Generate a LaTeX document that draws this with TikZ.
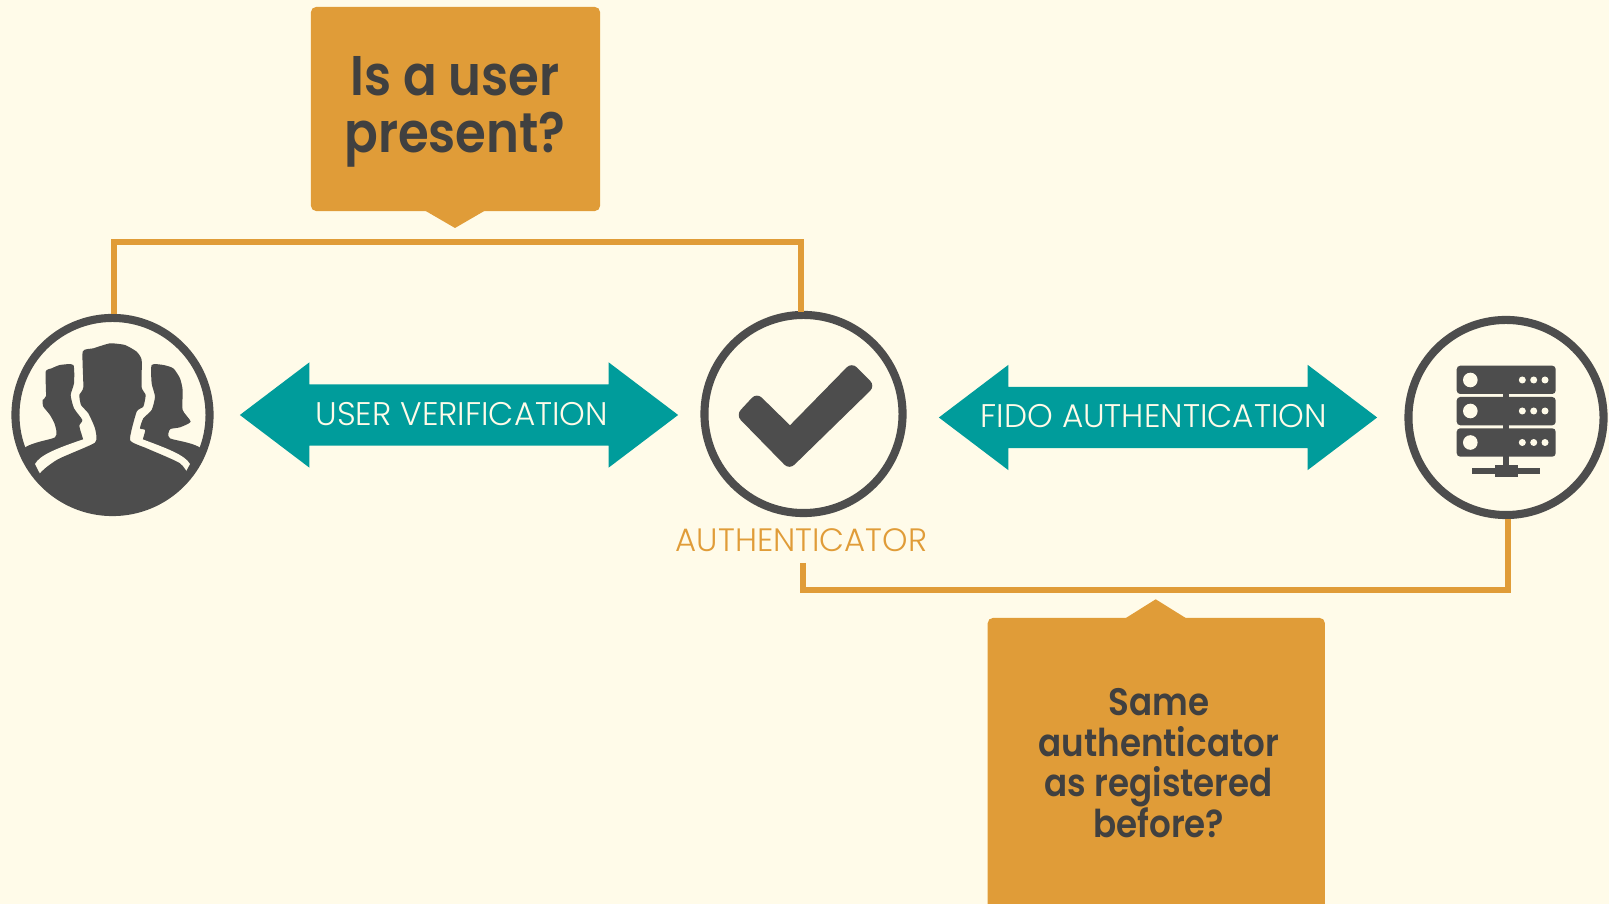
\documentclass[tikz,border=0pt]{standalone}
\usepackage{fontspec}
\setmainfont{Poppins}[UprightFont=* Light,BoldFont=* SemiBold,BoldFeatures={FakeStretch=0.89}]
\usetikzlibrary{shapes.arrows}
\definecolor{paper}{HTML}{FFFBE9}
\definecolor{amber}{HTML}{E09C38}
\definecolor{teal}{HTML}{009C9B}
\definecolor{slate}{HTML}{4D4D4D}
\definecolor{ink}{HTML}{404040}
\begin{document}
\begin{tikzpicture}[
        x=0.01cm, y=-0.01cm,
        ring/.style={
            circle,
            draw=slate,
            line width=2.3pt,
            minimum size=1.95cm,
            inner sep=0pt
        },
        callout/.style={
            rectangle,
            fill=amber,
            rounded corners=1.5pt,
            inner sep=0pt
        },
        question/.style={
            text=ink,
            align=center,
            font=\bfseries
        },
        twoway/.style={
            double arrow,
            fill=teal,
            text height=0.6cm,
            text depth=0cm,
            text width=0cm,
            minimum height=4.38cm,
            minimum width=1.04cm,
            double arrow head extend=0.22cm,
            double arrow tip angle=74.3,
            inner sep=0pt
        },
        caption/.style={
            text=paper,
            anchor=base,
            font=\fontsize{9.3}{11}\selectfont
        },
        link/.style={amber, line width=1.7pt},
        icon/.style={fill=slate, draw=none}
    ]
    \useasboundingbox (0,0) rectangle (1609,904);
    \fill[paper] (0,0) rectangle (1609,904);
    \clip (0,0) rectangle (1609,904);

    % Circles
    \node[ring, minimum size=1.94cm] (users) at (112.5,415) {};
    \node[ring, minimum size=1.98cm] (auth) at (803.5,414) {};
    \node[ring] (server) at (1506,417.5) {};

    % Callouts
    \node[callout, minimum width=2.89cm, minimum height=2.04cm] (userbox) at (455.5,109) {};
    \fill[amber] (424,210) -- (455,228) -- (486,210) -- cycle;
    \node[callout, minimum width=3.37cm, minimum height=3.02cm] (samebox) at (1156.3,769) {};
    \fill[amber] (1124.3,619) -- (1155.7,599.3) -- (1187.3,619) -- cycle;

    % Connectors
    \coordinate (authtop) at (800.5,312);
    \coordinate (authfoot) at (802.5,563);
    \coordinate (usertop) at (114,314);
    \coordinate (serverfoot) at (1508,519);
    \draw[link] (usertop) -- (114,242) -- (800.5,242) -- (authtop);
    \draw[link] (authfoot) -- (802.5,590) -- (1508,590) -- (serverfoot);

    % Arrows
    \node[twoway] (verify) at (459,415) {};
    \node[twoway] (fido) at (1158,417.5) {};

    % Texts
    \node[question, font=\bfseries\fontsize{15.9}{16.2}\selectfont] (usertext) at (455,112) {Is a user\\present?};
    \node[question, font=\bfseries\fontsize{10.9}{11.5}\selectfont] (sametext) at (1158.8,763) {Same\\authenticator\\as registered\\before?};
    \node[caption] (verifytext) at (461.8,426) {USER VERIFICATION};
    \node[caption] (fidotext) at (1153.7,427.3) {FIDO AUTHENTICATION};
    \node[caption, text=amber, font=\fontsize{9.2}{11}\selectfont] (authtext) at (801.5,552) {AUTHENTICATOR};

    % People icon, in the numbers of a 3x crop
    \begin{scope}[shift={(0,300)}, scale=0.33333]
        \clip (337.5,345) circle [radius=300];
        \fill[icon] plot[smooth cycle, tension=0.35] coordinates {(60,458) (165,412) (165,375) (150,345) (130,320) (128,300) (138,288) (137,215) (155,205) (180,195) (220,195) (222,250) (212,285) (222,325) (247,360) (238,378) (250,420) (340,720) (40,720)};
        \fill[icon] plot[smooth cycle, tension=0.35] coordinates {(615,458) (510,415) (510,388) (540,382) (572,365) (548,330) (548,270) (540,235) (520,205) (490,195) (455,195) (455,250) (465,290) (455,330) (430,355) (420,385) (435,390) (428,420) (340,720) (640,720)};
        \fill[paper] (250,418) .. controls (170,445) and (120,465) .. (105,492) -- (122,525) .. controls (140,495) and (200,470) .. (300,430) -- (300,400) -- cycle;
        \fill[paper] (428,418) .. controls (500,445) and (555,465) .. (570,492) -- (552,525) .. controls (535,495) and (480,470) .. (380,430) -- (380,400) -- cycle;
        \fill[icon] plot[smooth cycle, tension=0.3] coordinates {(110,540) (170,480) (285,428) (285,385) (265,340) (243,315) (238,285) (250,262) (248,155) (280,145) (330,130) (375,135) (410,155) (425,180) (425,262) (437,285) (430,320) (410,335) (390,420) (440,445) (540,490) (565,540) (500,720) (180,720)};
    \end{scope}

    % Check mark
    \fill[icon, rounded corners=2pt] (756.7,392.7) [sharp corners] -- (790,425.3) [rounded corners=2pt] -- (851.7,362.3) -- (875.2,385.9) -- (789.3,469.7) -- (735.9,415.1) -- cycle;

    % Server icon
    \foreach \top/\bottom in {365.7/394, 397/425.3, 428.3/456.7} {
        \fill[icon, rounded corners=1pt] (1456.7,\top) rectangle (1555.7,\bottom);
    }
    \fill[icon] (1503.3,394) rectangle (1509,465);
    \fill[icon] (1472,468.3) rectangle (1540.3,473.7);
    \fill[icon] (1494.7,465) rectangle (1517.7,476.7);
    \foreach \row in {380,411,442.5} {
        \fill[paper] (1470.3,\row) circle [radius=7.3];
        \foreach \dot in {1522.3,1533.7,1545} {
            \fill[paper] (\dot,\row) circle [radius=3.5];
        }
    }
\end{tikzpicture}
\end{document}
